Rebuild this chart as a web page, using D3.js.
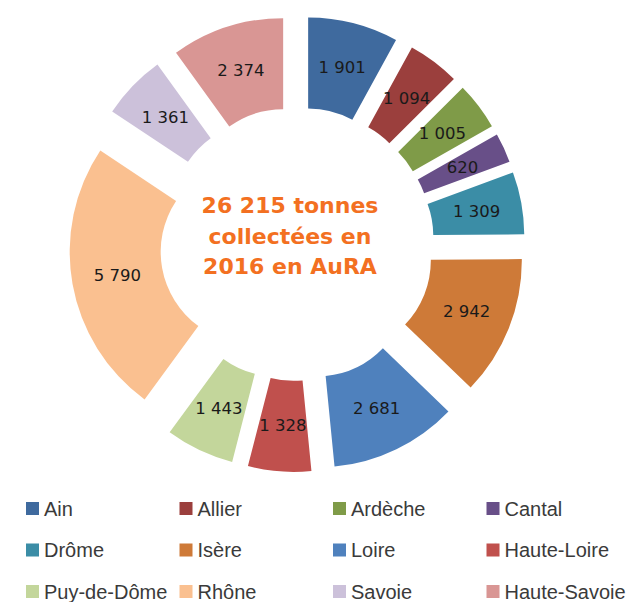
<!DOCTYPE html>
<html>
<head>
<meta charset="utf-8">
<script src="https://cdn.jsdelivr.net/npm/d3@7"></script>
<style>
  html, body { margin: 0; padding: 0; background: #fff; }
  svg { display: block; }
</style>
</head>
<body>
<div id="chart"></div>
<script>
// Tonnages collectés par département, AuRA 2016 (donut éclaté)
const departements = ['Ain', 'Allier', 'Ardèche', 'Cantal', 'Drôme', 'Isère',
  'Loire', 'Haute-Loire', 'Puy-de-Dôme', 'Rhône', 'Savoie', 'Haute-Savoie'];
const tonnes = [1901, 1094, 1005, 620, 1309, 2942, 2681, 1328, 1443, 5790, 1361, 2374];
const couleurs = ['#3f6a9e', '#9b3f3d', '#7f9b48', '#684f88', '#3b8da6', '#ce7a38',
  '#4f81bd', '#c0504d', '#c3d69b', '#fac090', '#ccc1da', '#d99694'];
const centreLignes = ['26 215 tonnes', 'collectées en', '2016 en AuRA'];

const width = 630, height = 602;
const cx = 297, cy = 244;
const rIn = 92, rOut = 183, explode = 45;

const fr = d3.formatLocale({ decimal: ',', thousands: ' ', grouping: [3], currency: ['', ' €'] });
const fmt = fr.format(',d');

const data = departements.map((d, i) => ({ name: d, value: tonnes[i], color: couleurs[i] }));

const svg = d3.select('#chart').append('svg')
  .attr('width', width).attr('height', height)
  .attr('viewBox', `0 0 ${width} ${height}`);

const g = svg.append('g').attr('transform', `translate(${cx},${cy})`);

const pie = d3.pie().sort(null).value(d => d.value);
const arc = d3.arc().innerRadius(rIn).outerRadius(rOut);
const arcs = pie(data);

// each slice pushed outward along its mid-angle
const shift = a => {
  const mid = (a.startAngle + a.endAngle) / 2;
  return [explode * Math.sin(mid), -explode * Math.cos(mid)];
};

const slices = g.selectAll('g.slice').data(arcs).join('g')
  .attr('class', 'slice')
  .attr('transform', d => `translate(${shift(d)})`);

slices.append('path')
  .attr('d', arc)
  .attr('fill', d => d.data.color);

slices.append('text')
  .attr('transform', d => `translate(${arc.centroid(d)})`)
  .attr('text-anchor', 'middle')
  .attr('dominant-baseline', 'central')
  .attr('font-family', 'DejaVu Sans, sans-serif')
  .attr('font-size', 16.5)
  .attr('fill', '#1a1a1a')
  .text(d => fmt(d.value));

// centre label
svg.append('g')
  .selectAll('text').data(centreLignes).join('text')
  .attr('x', 290)
  .attr('y', (d, i) => 213 + i * 30.7)
  .attr('text-anchor', 'middle')
  .attr('font-family', 'DejaVu Sans, sans-serif')
  .attr('font-weight', 'bold')
  .attr('font-size', 22)
  .attr('fill', '#f37021')
  .text(d => d);

// legend, 4 columns x 3 rows
const legend = svg.append('g').selectAll('g').data(data).join('g')
  .attr('transform', (d, i) => `translate(${26 + (i % 4) * 153.5},${502 + Math.floor(i / 4) * 41.5})`);

legend.append('rect')
  .attr('width', 13).attr('height', 13)
  .attr('fill', d => d.color);

legend.append('text')
  .attr('x', 18).attr('y', 13.5)
  .attr('font-family', 'Liberation Sans, Arial, sans-serif')
  .attr('font-size', 20)
  .attr('fill', '#3a3a3a')
  .text(d => d.name);
</script>
</body>
</html>
